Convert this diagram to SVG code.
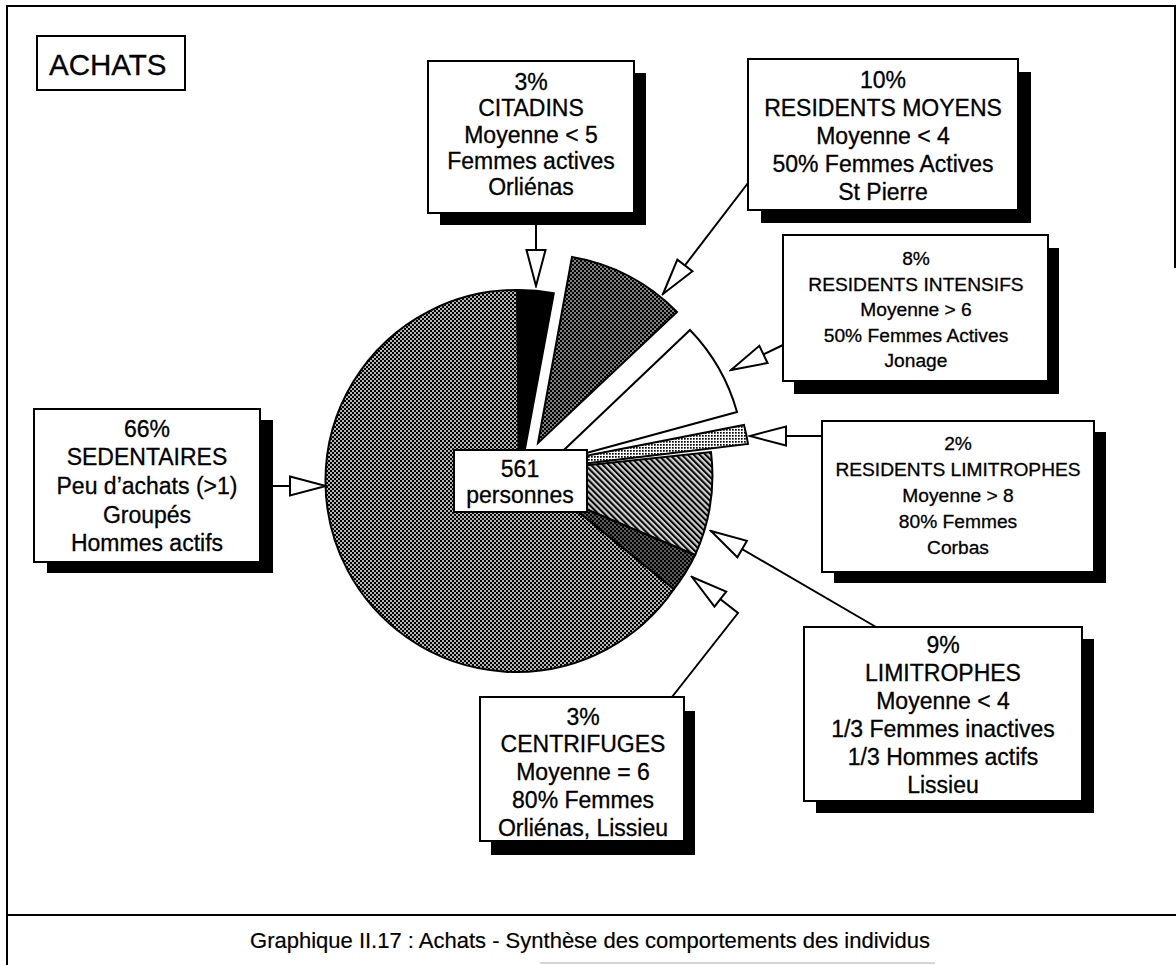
<svg xmlns="http://www.w3.org/2000/svg" width="1176" height="965" viewBox="0 0 1176 965">
<defs>
<style>
.frame{stroke:#000;stroke-width:2;fill:none}
.box{fill:#fff;stroke:#000;stroke-width:2}
.sh{fill:#000}
.t{font-family:"Liberation Sans",Arial,Helvetica,sans-serif;fill:#000;stroke:#000;stroke-width:0.3;text-anchor:middle}
.f23{font-size:23px}
.f19{font-size:19.2px}
.conn{fill:none;stroke:#000;stroke-width:2;marker-end:url(#ah)}
.slice{stroke:#000;stroke-width:2;stroke-linejoin:miter}
</style>
<marker id="ah" markerUnits="userSpaceOnUse" viewBox="-2 -12 40 24" markerWidth="40" markerHeight="24" refX="36" refY="0" orient="auto">
<path d="M0,-9.5 L36,0 L0,9.5 Z" fill="#fff" stroke="#000" stroke-width="2"/>
</marker>
<pattern id="pSed" width="4" height="4" patternUnits="userSpaceOnUse">
<rect width="4" height="4" fill="#b4b4b4"/><rect width="2" height="2" fill="#000"/><rect x="2" y="2" width="2" height="2" fill="#000"/>
</pattern>
<pattern id="pMoy" width="4" height="4" patternUnits="userSpaceOnUse">
<rect width="4" height="4" fill="#808080"/><rect width="2" height="2" fill="#000"/><rect x="2" y="2" width="2" height="2" fill="#000"/>
</pattern>
<pattern id="pCen" width="4" height="4" patternUnits="userSpaceOnUse">
<rect width="4" height="4" fill="#5a5a5a"/><rect width="2" height="2" fill="#000"/><rect x="2" y="2" width="2" height="2" fill="#000"/>
</pattern>
<pattern id="pLim" width="4.2" height="4.2" patternUnits="userSpaceOnUse" patternTransform="rotate(-45)">
<rect width="4.2" height="4.2" fill="#cfcfcf"/><rect width="2" height="4.2" fill="#000"/>
</pattern>
<pattern id="pRL" width="3" height="3" patternUnits="userSpaceOnUse">
<rect width="3" height="3" fill="#fff"/><rect width="1.7" height="1.7" fill="#000"/>
</pattern>
</defs>

<rect width="1176" height="965" fill="#fff"/>

<g id="frame">
<line class="frame" x1="7" y1="6" x2="1176" y2="6"/>
<line class="frame" x1="7" y1="5" x2="7" y2="965"/>
<line class="frame" x1="1175" y1="6" x2="1175" y2="268"/>
<line class="frame" x1="7" y1="915" x2="1176" y2="915"/>
<line x1="540" y1="963" x2="935" y2="963" stroke="#aaa" stroke-width="1"/>
</g>

<g id="pie">
<path id="s-sedentaires" class="slice" fill="url(#pSed)" d="M519,481 L560,497 L674,589 A191,191 0 1 1 517.3,290 Z"/>
<path id="s-citadins" class="slice" fill="#000" d="M519,481 L517.3,290 A191,191 0 0 1 553.8,293.2 Z"/>
<path id="s-moyens" class="slice" fill="url(#pMoy)" d="M538,443 L572,257 A190,190 0 0 1 677,312 Z"/>
<path id="s-intensifs" class="slice" fill="#fff" d="M550.5,462.7 L690,330 A193,193 0 0 1 737,412 Z"/>
<path id="s-reslim" class="slice" fill="url(#pRL)" d="M575,457.9 L744,425 A193,193 0 0 1 748,444 L575,464.8 Z"/>
<path id="s-limitrophes" class="slice" fill="url(#pLim)" d="M519,481 L580,466 L711,452 A193,193 0 0 1 695.1,555 Z"/>
<path id="s-centrifuges" class="slice" fill="url(#pCen)" d="M519,481 L695.1,555 A191,191 0 0 1 674,589 L560,497 Z"/>
</g>

<g id="n-total">
<rect class="box" x="454" y="450" width="133" height="62"/>
<text class="t f23" x="520"><tspan x="520" y="477">561</tspan><tspan x="520" y="503">personnes</tspan></text>
</g>

<g id="connectors">
<path class="conn" d="M536,213 L536,286"/>
<path class="conn" d="M748,183 L663,294"/>
<path class="conn" d="M783,345 L731,370"/>
<path class="conn" d="M822,436 L750,436"/>
<path class="conn" d="M876,627 L711,531"/>
<path class="conn" d="M672,697 L738,613 L692,577"/>
<path class="conn" d="M260,486 L326,486"/>
</g>

<g id="n-achats">
<rect class="box" x="37" y="36" width="148" height="54"/>
<text class="t" x="49" y="75" style="text-anchor:start;font-size:29.5px">ACHATS</text>
</g>

<g id="n-citadins">
<rect class="sh" x="440" y="73" width="206" height="152"/>
<rect class="box" x="428" y="61" width="206" height="152"/>
<text class="t f23"><tspan x="531" y="90">3%</tspan><tspan x="531" y="116">CITADINS</tspan><tspan x="531" y="142.5">Moyenne &lt; 5</tspan><tspan x="531" y="169">Femmes actives</tspan><tspan x="531" y="195">Orliénas</tspan></text>
</g>

<g id="n-moyens">
<rect class="sh" x="761" y="72" width="270" height="151"/>
<rect class="box" x="748" y="59" width="270" height="151"/>
<text class="t f23"><tspan x="883" y="88">10%</tspan><tspan x="883" y="116">RESIDENTS MOYENS</tspan><tspan x="883" y="144">Moyenne &lt; 4</tspan><tspan x="883" y="172">50% Femmes Actives</tspan><tspan x="883" y="200">St Pierre</tspan></text>
</g>

<g id="n-intensifs">
<rect class="sh" x="794" y="248" width="265" height="146"/>
<rect class="box" x="783" y="235" width="265" height="146"/>
<text class="t f19"><tspan x="916" y="265">8%</tspan><tspan x="916" y="290.5">RESIDENTS INTENSIFS</tspan><tspan x="916" y="316">Moyenne &gt; 6</tspan><tspan x="916" y="341.5">50% Femmes Actives</tspan><tspan x="916" y="367">Jonage</tspan></text>
</g>

<g id="n-reslim">
<rect class="sh" x="834" y="432" width="272" height="151"/>
<rect class="box" x="822" y="421" width="272" height="151"/>
<text class="t f19"><tspan x="958" y="450">2%</tspan><tspan x="958" y="476">RESIDENTS LIMITROPHES</tspan><tspan x="958" y="502">Moyenne &gt; 8</tspan><tspan x="958" y="528">80% Femmes</tspan><tspan x="958" y="554">Corbas</tspan></text>
</g>

<g id="n-limitrophes">
<rect class="sh" x="816" y="639" width="278" height="174"/>
<rect class="box" x="804" y="627" width="278" height="174"/>
<text class="t f23"><tspan x="943" y="653">9%</tspan><tspan x="943" y="681">LIMITROPHES</tspan><tspan x="943" y="709">Moyenne &lt; 4</tspan><tspan x="943" y="737">1/3 Femmes inactives</tspan><tspan x="943" y="765">1/3 Hommes actifs</tspan><tspan x="943" y="793">Lissieu</tspan></text>
</g>

<g id="n-centrifuges">
<rect class="sh" x="491" y="711" width="204" height="144"/>
<rect class="box" x="480" y="697" width="204" height="144"/>
<text class="t f23"><tspan x="583" y="725">3%</tspan><tspan x="583" y="752">CENTRIFUGES</tspan><tspan x="583" y="780">Moyenne = 6</tspan><tspan x="583" y="808">80% Femmes</tspan><tspan x="583" y="836">Orliénas, Lissieu</tspan></text>
</g>

<g id="n-sedentaires">
<rect class="sh" x="47" y="420" width="226" height="153"/>
<rect class="box" x="34" y="409" width="226" height="153"/>
<text class="t f23"><tspan x="147" y="437">66%</tspan><tspan x="147" y="465">SEDENTAIRES</tspan><tspan x="147" y="494">Peu d’achats (&gt;1)</tspan><tspan x="147" y="523">Groupés</tspan><tspan x="147" y="551">Hommes actifs</tspan></text>
</g>

<g id="caption">
<text class="t" x="590" y="948" style="font-size:22px;stroke-width:0.2">Graphique II.17 : Achats - Synthèse des comportements des individus</text>
</g>
</svg>
